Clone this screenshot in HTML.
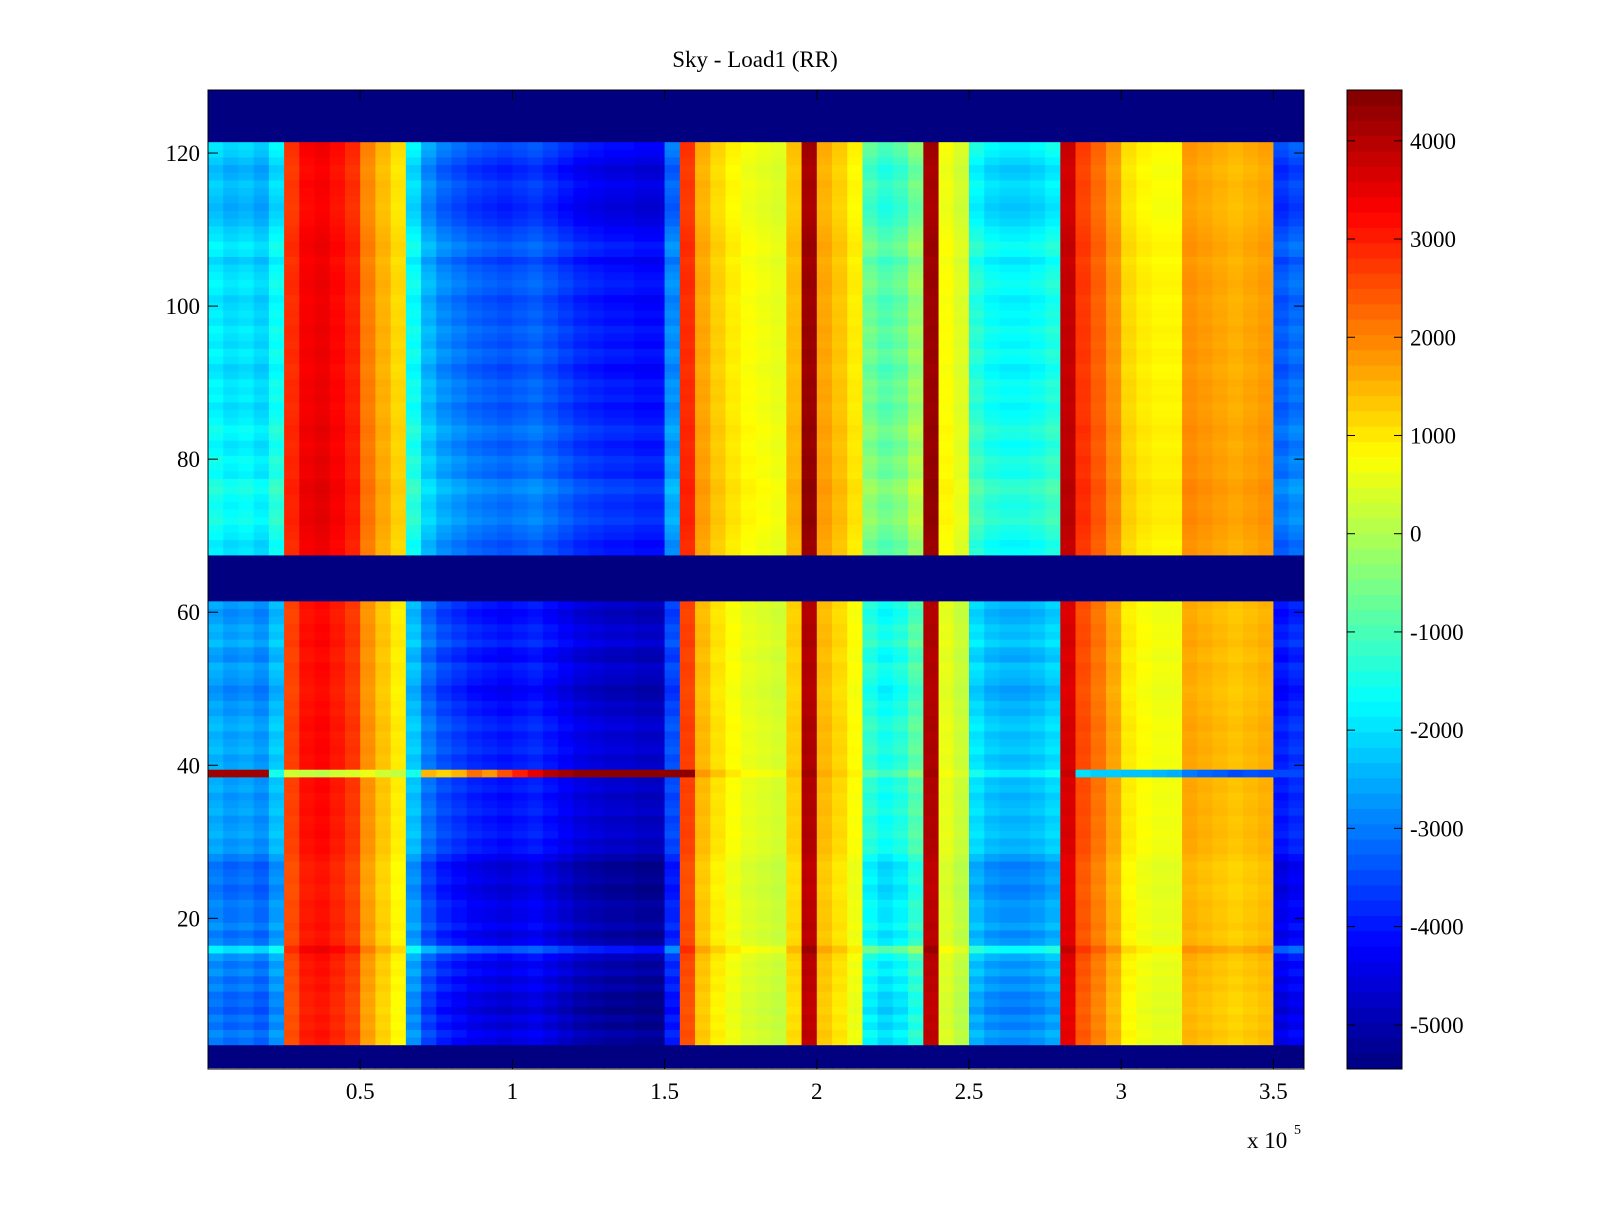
<!DOCTYPE html>
<html><head><meta charset="utf-8">
<style>
body{margin:0;background:#fff;}
svg text{font-family:"Liberation Serif",serif;font-size:23px;fill:#000;}
</style></head>
<body>
<svg id="chart" width="1600" height="1200" xmlns="http://www.w3.org/2000/svg">
<rect width="1600" height="1200" fill="#fff"/>
<text x="755" y="67" text-anchor="middle">Sky - Load1 (RR)</text>
<g id="cells"></g>
<g id="cbar"></g>
<g id="axes"></g>
</svg>
<script>
// ---- data ----
const xBinWidth = 0.05; // x10^5 units
const colVals = [-2000,-2200,-2100,-2300,-1800,2800,3300,3400,3200,2900,2000,1500,1100,-1800,-2600,
-3000,-3200,-3400,-3500,-3600,-3500,-3400,-3600,-3800,-4000,-4100,-4200,-4200,-4300,-4300,
-3000,2800,1600,1200,900,700,600,500,1400,4200,1600,1300,900,-800,-1100,-900,-400,4200,700,400,
-1500,-1800,-1900,-1900,-1800,-1600,3800,2700,2300,1800,1100,900,800,800,1800,1700,1600,1500,1600,1700,-3500,-3300];
const rowOff = [
0,0,0,-1000,-800,-1100,-900,-1200,-1000,-1100,-800,-1000,-700,-900,-600,200,
-800,-1000,-700,-900,-900,-800,-1000,-1100,-900,-1000,-1100,-800,-500,-600,-400,-500,
-600,-400,-500,-600,-400,-500,0,-400,-500,-300,-400,-500,-300,-400,-600,-500,
-700,-800,-600,-500,-400,-700,-600,-300,-500,-400,-600,-700,-500,0,0,0,0,0,
300,200,100,300,400,600,500,400,500,700,600,300,400,500,300,200,
400,500,300,200,100,300,200,300,100,0,200,300,100,200,300,100,
200,100,0,200,300,200,100,-100,200,300,100,0,-200,-300,-400,-300,
-200,-100,-300,-400,-200,0,100,200,300,0,0,0,0,0,0,0];
const maskedRows = [1,2,3,62,63,64,65,66,67,122,123,124,125,126,127,128];
const row39Channel = 39;
const row39Vals = [4200,4200,4200,4200,-1500,300,200,100,300,400,600,300,200,-1500,1500,
1200,1500,2200,1800,2500,3000,3500,4000,4200,4400,4400,4400,4400,4400,4400,
4400,4400,1800,1400,1000,800,700,600,1400,4200,1600,1300,900,-800,-1100,-900,-400,4200,700,400,
-1500,-1800,-1900,-1900,-1800,-1600,3800,-2000,-2200,-2200,-2300,-2300,-2400,-2500,-3000,-3200,-3300,-3500,-3400,-3500,-3500,-3500];
const xTicks = [0.5,1,1.5,2,2.5,3,3.5];
const xTickLabels = ["0.5","1","1.5","2","2.5","3","3.5"];
const yTicks = [20,40,60,80,100,120];
const cTicks = [4000,3000,2000,1000,0,-1000,-2000,-3000,-4000,-5000];
const cMin=-5444, cMax=4520, maskVal=-5500;

// ---- axes ----
const L=208,R=1304,T=90,B=1069;
const xs = v => L + v*304.4;
const ys = v => 1071.4 - v*7.653;
const cs = v => 533.7 - v*0.09822;
function jet(v){
  let t=(v-cMin)/(cMax-cMin); t=Math.max(0,Math.min(1,t));
  const f=x=>Math.max(0,Math.min(1,x));
  const r=f(1.5-Math.abs(4*t-3)), g=f(1.5-Math.abs(4*t-2)), b=f(1.5-Math.abs(4*t-1));
  return `rgb(${Math.round(r*255)},${Math.round(g*255)},${Math.round(b*255)})`;
}
const NS="http://www.w3.org/2000/svg";
function mk(tag,attrs,parent){const e=document.createElementNS(NS,tag);for(const k in attrs)e.setAttribute(k,attrs[k]);parent.appendChild(e);return e;}
const cells=document.getElementById('cells');
for(let j=0;j<128;j++){
  const ch=j+1;
  const y0=ys(ch+0.5), y1=ys(ch-0.5);
  const masked=maskedRows.includes(ch);
  for(let i=0;i<colVals.length;i++){
    const x0=xs(i*xBinWidth), x1=xs((i+1)*xBinWidth);
    const c=colVals[i];
    let v=masked?maskVal:c+(c<0?rowOff[j]:rowOff[j]*0.3);
    if(ch===row39Channel) v=row39Vals[i];
    const r=mk('rect',{x:x0.toFixed(2),y:Math.max(T,y0).toFixed(2),width:(Math.min(R,x1)-x0+0.6).toFixed(2),height:(Math.min(B,y1)-Math.max(T,y0)+0.6).toFixed(2),fill:jet(v)},cells);
    
    
  }
}
const axes=document.getElementById('axes');
mk('rect',{x:L,y:T,width:R-L,height:B-T,fill:'none',stroke:'#000','stroke-width':1},axes);
xTicks.forEach((t,k)=>{
  const x=xs(t);
  mk('line',{x1:x,x2:x,y1:B,y2:B-10,stroke:'#000'},axes);
  mk('line',{x1:x,x2:x,y1:T,y2:T+10,stroke:'#000'},axes);
  const tx=mk('text',{x:x,y:B+30,'text-anchor':'middle'},axes);tx.textContent=xTickLabels[k];
  
  
});
yTicks.forEach(t=>{
  const y=ys(t);
  mk('line',{x1:L,x2:L+10,y1:y,y2:y,stroke:'#000'},axes);
  mk('line',{x1:R,x2:R-10,y1:y,y2:y,stroke:'#000'},axes);
  const tx=mk('text',{x:L-8,y:y+8,'text-anchor':'end'},axes);tx.textContent=t;
  
  
});
const ex=mk('text',{x:1247,y:1148},axes);ex.textContent='x 10';


const ex2=mk('text',{x:1294,y:1134,style:'font-size:14px'},axes);ex2.textContent='5';
// colorbar
const cb=document.getElementById('cbar');
const CL=1347,CR=1402;
for(let k=0;k<64;k++){
  const v0=cMin+(cMax-cMin)*k/64, v1=cMin+(cMax-cMin)*(k+1)/64;
  mk('rect',{x:CL,y:cs(v1),width:CR-CL,height:cs(v0)-cs(v1)+0.5,fill:jet((v0+v1)/2)},cb);
}
mk('rect',{x:CL,y:T,width:CR-CL,height:B-T,fill:'none',stroke:'#000'},cb);
cTicks.forEach(t=>{
  const y=cs(t);
  mk('line',{x1:CL,x2:CL+8,y1:y,y2:y,stroke:'#000'},cb);
  mk('line',{x1:CR,x2:CR-8,y1:y,y2:y,stroke:'#000'},cb);
  const tx=mk('text',{x:CR+8,y:y+8},cb);tx.textContent=t;
  
  
});
</script>
</body></html>
